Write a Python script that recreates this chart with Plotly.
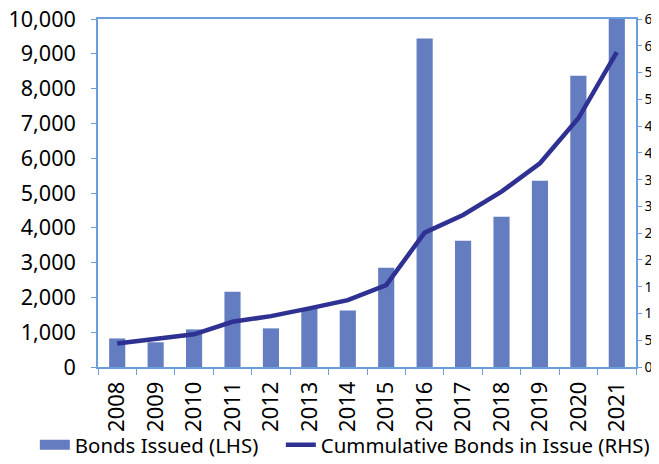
import plotly.graph_objects as go

years = ["2008", "2009", "2010", "2011", "2012", "2013", "2014",
         "2015", "2016", "2017", "2018", "2019", "2020", "2021"]
bonds_issued = [820, 710, 1080, 2160, 1110, 1690, 1620,
                2850, 9440, 3630, 4320, 5350, 8370, 10000]
cumulative = [4400, 5200, 6100, 8450, 9500, 10950, 12500,
              15300, 25100, 28400, 32750, 38050, 46450, 58800]

bar_color = "#647CC0"
line_color = "#2E3192"
axis_color = "#6A9FDB"
font_family = "Noto Sans, Open Sans, sans-serif"

fig = go.Figure()
fig.add_trace(go.Bar(x=years, y=bonds_issued, name="Bonds Issued (LHS)",
                     marker=dict(color=bar_color, line=dict(width=0)),
                     yaxis="y", showlegend=False))
# legend entry drawn as a wide rectangle swatch like the original
fig.add_trace(go.Scatter(x=[years[0]], y=[None], name="Bonds Issued (LHS)",
                         mode="lines", line=dict(color=bar_color, width=10),
                         yaxis="y", legendwidth=201, hoverinfo="skip"))
fig.add_trace(go.Scatter(x=years, y=cumulative, name="Cummulative Bonds in Issue (RHS)",
                         mode="lines", line=dict(color=line_color, width=4.5),
                         yaxis="y2", legendwidth=332))

fig.update_layout(
    width=651, height=456,
    margin=dict(l=90, r=23, t=11, b=97, autoexpand=False),
    paper_bgcolor="white", plot_bgcolor="white",
    font=dict(family=font_family, size=20, color="#000000"),
    bargap=0.58,
    showlegend=True,
    legend=dict(orientation="h", x=-0.1174, xanchor="left", y=-0.224, yanchor="middle",
                font=dict(size=20.4), itemwidth=30, tracegroupgap=0,
                bgcolor="rgba(0,0,0,0)"),
    xaxis=dict(type="category", showline=True, linecolor=axis_color, linewidth=1.5,
               mirror=True, ticks="outside", tickson="boundaries", ticklen=6,
               tickcolor=axis_color, tickangle=-90, showgrid=False,
               tickfont=dict(size=22), automargin=False, ticklabelstandoff=4),
    yaxis=dict(range=[0, 10000], tickvals=list(range(0, 10001, 1000)),
               tickformat=",d", showline=True, linecolor=axis_color, linewidth=1.5,
               ticks="outside", ticklen=5, tickcolor=axis_color, showgrid=False,
               zeroline=False, tickfont=dict(size=21.6), ticklabelstandoff=11,
               automargin=False, ticklabeloverflow="allow"),
    yaxis2=dict(range=[0, 65000], tickvals=list(range(0, 65001, 5000)),
                tickformat=",d", overlaying="y", side="right", showline=True,
                linecolor=axis_color, linewidth=1.5, ticks="outside", ticklen=4,
                tickcolor=axis_color, showgrid=False, zeroline=False,
                tickfont=dict(size=14), automargin=False, ticklabeloverflow="allow",
                ticklabelstandoff=0),
)

fig.write_html("out.html")
